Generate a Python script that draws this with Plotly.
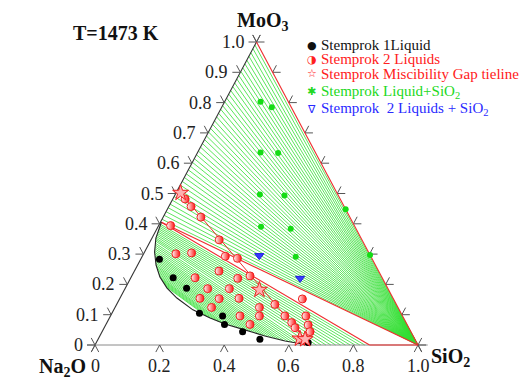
import numpy as np
import plotly.graph_objects as go

# ---------------- experimental data (mole fractions) ----------------
one_liquid_moo3 = [0.283, 0.222, 0.187, 0.105, 0.096, 0.068, 0.044, 0.019, 0.008]
one_liquid_sio2 = [0.058, 0.131, 0.190, 0.271, 0.347, 0.367, 0.435, 0.501, 0.656]

two_liquids_moo3 = [0.394, 0.301, 0.304, 0.482, 0.457, 0.422, 0.347, 0.293, 0.286, 0.244,
                    0.222, 0.220, 0.228, 0.186, 0.186, 0.154, 0.153, 0.154, 0.124, 0.096,
                    0.068, 0.096, 0.124, 0.134, 0.096, 0.074, 0.057, 0.152, 0.096, 0.066, 0.044]
two_liquids_sio2 = [0.037, 0.100, 0.147, 0.038, 0.069, 0.117, 0.211, 0.257, 0.298, 0.262,
                    0.199, 0.332, 0.366, 0.256, 0.323, 0.248, 0.308, 0.369, 0.299, 0.401,
                    0.446, 0.461, 0.447, 0.490, 0.540, 0.572, 0.591, 0.566, 0.605, 0.627, 0.644]

tieline_moo3 = [0.502, 0.182, 0.021, 0.019]
tieline_sio2 = [0.014, 0.418, 0.624, 0.641]

liq_sio2_moo3 = [0.803, 0.785, 0.635, 0.634, 0.497, 0.493, 0.390, 0.384, 0.291, 0.448, 0.297]
liq_sio2_sio2 = [0.111, 0.155, 0.195, 0.250, 0.262, 0.340, 0.319, 0.414, 0.476, 0.552, 0.703]

two_liq_sio2_moo3 = [0.295, 0.220]
two_liq_sio2_sio2 = [0.361, 0.525]

# ---------------- calculated diagram (T = 1473 K) ----------------
binodal_moo3 = [0.405, 0.353, 0.307, 0.264, 0.224, 0.188, 0.155, 0.116, 0.089, 0.069,
                0.050, 0.030, 0.013, 0.002, 0.0]
binodal_sio2 = [0.003, 0.012, 0.031, 0.057, 0.089, 0.129, 0.176, 0.245, 0.312, 0.368,
                0.439, 0.511, 0.582, 0.649, 0.660]

# liquid ends (Na2O-MoO3 side) of Liquid + SiO2 tie-lines
liquidus_tie_moo3 = [0.415, 0.428, 0.440, 0.453, 0.465, 0.478, 0.490, 0.503, 0.515, 0.528,
                     0.540, 0.553, 0.565, 0.578, 0.590, 0.603, 0.615, 0.628, 0.640, 0.653,
                     0.665, 0.678, 0.690, 0.703, 0.715, 0.728, 0.740, 0.753, 0.765, 0.778,
                     0.790, 0.803, 0.815, 0.828, 0.840, 0.853, 0.865, 0.878, 0.890, 0.903,
                     0.915, 0.928, 0.940, 0.953, 0.965, 0.978, 0.990]

# two-liquid tie-lines: MoO3-rich end (MoO3) and SiO2-rich end (SiO2)
misc_tie_left_moo3 = [0.398, 0.393, 0.388, 0.383, 0.378, 0.373, 0.368, 0.363, 0.358, 0.353,
                      0.348, 0.343, 0.336, 0.330, 0.324, 0.318, 0.312, 0.306, 0.300, 0.294,
                      0.288, 0.282, 0.276, 0.270, 0.264, 0.258, 0.252, 0.246, 0.240, 0.234,
                      0.228, 0.222, 0.216, 0.210, 0.204, 0.198, 0.192]
misc_tie_right_sio2 = [0.835, 0.820, 0.805, 0.790, 0.775, 0.760, 0.745, 0.730, 0.715, 0.700,
                       0.685, 0.670, 0.652, 0.637, 0.622, 0.607, 0.593, 0.578, 0.563, 0.549,
                       0.534, 0.519, 0.505, 0.490, 0.475, 0.461, 0.446, 0.431, 0.416, 0.402,
                       0.387, 0.372, 0.358, 0.343, 0.328, 0.314, 0.300]

# three-phase triangle L1 + L2 + SiO2  (MoO3, SiO2)
L1 = (0.405, 0.003)
L2 = (0.0, 0.850)

left_ticks = [0.0, 0.1, 0.2, 0.3, 0.4, 0.5, 0.6, 0.7, 0.8, 0.9, 1.0]
left_tick_labels = ["0", "0.1", "0.2", "0.3", "0.4", "0.5", "0.6", "0.7", "0.8", "0.9", "1.0"]
bottom_ticks = [0.0, 0.2, 0.4, 0.6, 0.8, 1.0]
bottom_tick_labels = ["0", "0.2", "0.4", "0.6", "0.8", "1.0"]
right_ticks = [0.0, 0.1, 0.2, 0.3, 0.4, 0.5, 0.6, 0.7, 0.8, 0.9, 1.0]

legend_entries = [("●", "Stemprok 1Liquid", "#111111"),
                  ("◑", "Stemprok 2 Liquids", "#ff2020"),
                  ("☆", "Stemprok Miscibility Gap tieline", "#ff2020"),
                  ("✱", "Stemprok Liquid+SiO<sub>2</sub>", "#22d822"),
                  ("∇", "Stemprok  2 Liquids + SiO<sub>2</sub>", "#2a2aff")]

# ---------------- page geometry ----------------
PAGE_MARGIN = 8          # default body margin of the html page
W, H = 530 - PAGE_MARGIN, 391 - PAGE_MARGIN


def px_x(wx):   # window pixel -> paper x
    return (wx - PAGE_MARGIN) / W


def px_y(wy):   # window pixel -> paper y
    return 1 - (wy - PAGE_MARGIN) / H


# ---------------- helpers ----------------
def tern(mo, si):
    mo = np.asarray(mo, float)
    si = np.asarray(si, float)
    return si + mo / 2.0, mo


def seg_trace(pairs, color, width):
    xs, ys = [], []
    for (x0, y0), (x1, y1) in pairs:
        xs += [x0, x1, None]
        ys += [y0, y1, None]
    return go.Scatter(x=xs, y=ys, mode="lines", line=dict(color=color, width=width),
                      hoverinfo="skip", showlegend=False)


def P(mo, si):
    x, y = tern(mo, si)
    return (float(x), float(y))


bm = np.array(binodal_moo3)
bs = np.array(binodal_sio2)

fig = go.Figure()
GREEN = "rgb(50,222,50)"
RED = "#ee2d2d"

# Liquid + SiO2 tie-lines (to SiO2 corner)
fig.add_trace(seg_trace([(P(m, 0.0), P(0.0, 1.0)) for m in liquidus_tie_moo3], GREEN, 0.8))

# two-liquid tie-lines
pairs = []
for ml, sr in zip(misc_tie_left_moo3, misc_tie_right_sio2):
    sl = float(np.interp(ml, bm[::-1], bs[::-1]))
    mr = 0.0 if sr >= bs[-1] else float(np.interp(sr, bs, bm))
    pairs.append((P(ml, sl), P(mr, sr)))
fig.add_trace(seg_trace(pairs, GREEN, 0.8))

# triangle frame
dxh = 8 / 323.0
dxd, dyd = 0.01165, 0.0233
fig.add_trace(seg_trace([((0.0, 0.0), (0.5, 1.0))], "#333333", 1.1))
fig.add_trace(seg_trace([((-dxh, 0.0), (1.03, 0.0))], "#8a8a8a", 1.0))
ext = [((0.0, 0.0), (-dxd, -dyd)), ((0.5, 1.0), (0.5 + dxd, 1.0 + dyd)),
       ((0.5, 1.0), (0.5 - dxd, 1.0 + dyd)), ((1.0, 0.0), (1.0 + dxd, -dyd))]
ticks = []
for m in left_ticks:
    x, y = P(m, 0.0)
    ticks += [((x, y), (x - dxh, y)), ((x, y), (x - dxd, y + dyd))]
for m in right_ticks:
    x, y = P(m, 1.0 - m)
    ticks += [((x, y), (x + dxh, y)), ((x, y), (x + dxd, y + dyd))]
for s in bottom_ticks:
    x, y = P(0.0, s)
    ticks += [((x, y), (x - dxd, y - dyd)), ((x, y), (x + dxd, y - dyd))]
fig.add_trace(seg_trace(ext + ticks, "#555555", 1.0))

# red boundaries: MoO3-SiO2 edge, three-phase triangle
red_pairs = [(P(1.0, 0.0), P(0.0, 1.0)), (P(*L1), P(0.0, 1.0)), (P(*L1), P(*L2)),
             (P(*L2), P(0.0, 1.0))]
fig.add_trace(seg_trace(red_pairs, RED, 1.1))

# binodal
bx, by = tern(bm, bs)
fig.add_trace(go.Scatter(x=bx, y=by, mode="lines", line=dict(color="#222222", width=1.1),
                         hoverinfo="skip", showlegend=False))

# experimental tieline
tx, ty = tern(tieline_moo3, tieline_sio2)
fig.add_trace(go.Scatter(x=[tx[0], tx[-1]], y=[ty[0], ty[-1]], mode="lines",
                         line=dict(color=RED, width=1), hoverinfo="skip", showlegend=False))

# markers
x, y = tern(liq_sio2_moo3, liq_sio2_sio2)
fig.add_trace(go.Scatter(x=x, y=y, mode="markers", name="Stemprok Liquid+SiO2",
                         marker=dict(symbol="circle", size=6, color="#14dc14"), showlegend=False))
x, y = tern(two_liq_sio2_moo3, two_liq_sio2_sio2)
fig.add_trace(go.Scatter(x=x, y=y, mode="markers", name="Stemprok 2 Liquids + SiO2",
                         marker=dict(symbol="triangle-down", size=8, color="#3a3aff",
                                     line=dict(color="#1e1ee0", width=1)), showlegend=False))
x, y = tern(one_liquid_moo3, one_liquid_sio2)
fig.add_trace(go.Scatter(x=x, y=y, mode="markers", name="Stemprok 1Liquid",
                         marker=dict(symbol="circle", size=7, color="black"), showlegend=False))
x, y = tern(two_liquids_moo3, two_liquids_sio2)
fig.add_trace(go.Scatter(x=x, y=y, mode="markers", name="Stemprok 2 Liquids",
                         marker=dict(symbol="circle", size=8, color="white",
                                     gradient=dict(type="horizontal", color="#ff1010"),
                                     line=dict(color="#ee2020", width=1)), showlegend=False))
fig.add_trace(go.Scatter(x=tx, y=ty, mode="markers", name="Stemprok Miscibility Gap tieline",
                         marker=dict(symbol="star", size=12, color="#ffb0b0",
                                     line=dict(color="#ee2020", width=1)), showlegend=False))

# ---------------- text ----------------
SERIF = "Liberation Serif"
ann = []
for m, lab in zip(left_ticks, left_tick_labels):
    xx, yy = P(m, 0.0)
    ann.append(dict(x=xx, y=yy, xref="x", yref="y", text=lab, showarrow=False,
                    xanchor="right", yanchor="middle", xshift=-10,
                    font=dict(family=SERIF, size=18, color="#222222")))
for s, lab in zip(bottom_ticks, bottom_tick_labels):
    xx, yy = P(0.0, s)
    ann.append(dict(x=xx, y=yy, xref="x", yref="y", text=lab, showarrow=False,
                    xanchor="center", yanchor="middle", yshift=-21,
                    font=dict(family=SERIF, size=18, color="#222222")))
ann.append(dict(x=0.5, y=1.0, xref="x", yref="y", text="<b>MoO<sub>3</sub></b>", showarrow=False,
                xanchor="center", yanchor="middle", xshift=6, yshift=21,
                font=dict(family=SERIF, size=20, color="#111111")))
ann.append(dict(x=1.0, y=0.0, xref="x", yref="y", text="<b>SiO<sub>2</sub></b>", showarrow=False,
                xanchor="left", yanchor="middle", xshift=11, yshift=-12,
                font=dict(family=SERIF, size=20, color="#111111")))
ann.append(dict(x=0.0, y=0.0, xref="x", yref="y", text="<b>Na<sub>2</sub>O</b>", showarrow=False,
                xanchor="right", yanchor="middle", xshift=-7, yshift=-22,
                font=dict(family=SERIF, size=20, color="#111111")))
ann.append(dict(x=px_x(116), y=px_y(33), xref="paper", yref="paper", text="<b>T=1473 K</b>",
                showarrow=False, xanchor="center", yanchor="middle",
                font=dict(family=SERIF, size=20, color="#111111")))

rows_y = [45, 59.5, 74, 91.5, 109]
for (sym, txt, col), ry in zip(legend_entries, rows_y):
    ann.append(dict(x=px_x(311.5), y=px_y(ry), xref="paper", yref="paper", text=sym,
                    showarrow=False, xanchor="center", yanchor="middle",
                    font=dict(family="DejaVu Sans", size=11, color=col)))
    ann.append(dict(x=px_x(319), y=px_y(ry), xref="paper", yref="paper", text=txt,
                    showarrow=False, xanchor="left", yanchor="middle",
                    font=dict(family=SERIF, size=15, color=col)))

# axis ranges so that the triangle spans window pixels x 95..418, y 345..42
X0 = -(95 - PAGE_MARGIN) / 323.0
Y1 = 1 + (42 - PAGE_MARGIN) / 303.0
fig.update_layout(
    width=W, height=H, autosize=False,
    margin=dict(l=0, r=0, t=0, b=0, pad=0),
    paper_bgcolor="white", plot_bgcolor="white",
    xaxis=dict(range=[X0, X0 + W / 323.0], visible=False, fixedrange=True),
    yaxis=dict(range=[Y1 - H / 303.0, Y1], visible=False, fixedrange=True),
    annotations=ann, showlegend=False,
)
fig.write_html("out.html")
